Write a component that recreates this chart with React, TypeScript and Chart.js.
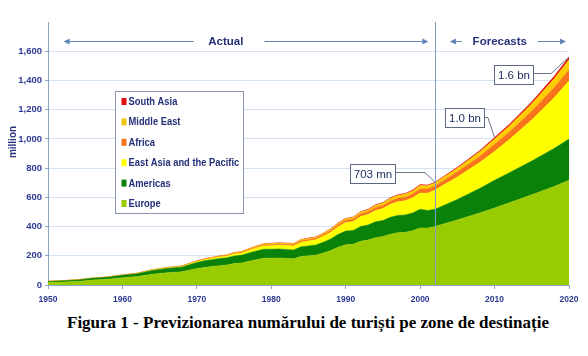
import { useEffect, useRef } from "react";
import { Chart, registerables } from "chart.js";
Chart.register(...registerables);

const years = [1950,1952,1954,1956,1958,1960,1962,1964,1966,1968,1970,1971,1972,1973,1974,1975,1976,1977,1978,1979,1980,1981,1982,1983,1984,1985,1986,1987,1988,1989,1990,1991,1992,1993,1994,1995,1996,1997,1998,1999,2000,2001,2002,2005,2008,2010,2012,2015,2018,2020];
const europe = [16.7,20.3,24.8,33.6,39.2,50.0,57.9,74.0,83.4,89.9,112.2,120.4,126.5,132.5,136.5,146.3,150.1,162.4,173.2,182.6,183.6,184.4,182.1,179.1,195.6,200.0,204.3,219.1,235.5,258.9,275.4,278.6,299.6,307.3,323.7,331.1,347.7,357.7,360.6,371.5,390.2,389.9,401,445,493,527,563,617,674,717];
const americas = [7.4,8.6,9.9,12.6,13.9,16.6,19.8,25.9,30.0,33.0,42.3,44.9,46.7,48.4,49.3,52.3,53.0,56.7,59.8,62.2,61.8,62.1,61.4,60.4,66.0,67.6,69.1,74.2,79.8,87.8,93.5,94.2,101.0,103.2,108.4,110.5,115.6,118.5,119.0,122.1,127.8,120.4,117,141,168,190,206,232,261,282];
const eastAsia = [0.2,0.25,0.32,0.44,0.53,0.7,1.2,2.1,3.1,4.1,6.1,7.4,8.7,10.0,11.3,13.2,14.7,17.1,19.5,21.9,23.5,25.0,26.2,27.2,31.3,33.7,36.2,40.7,45.7,52.6,58.4,61.0,67.7,71.6,77.7,81.9,88.6,93.8,97.3,103.1,111.3,118.3,132,153,177,197,227,281,346,397];
const africa = [0.5,0.57,0.61,0.72,0.72,0.8,1.0,1.3,1.6,1.8,2.5,2.9,3.3,3.6,4.0,4.6,4.9,5.7,6.4,7.0,7.4,7.7,7.9,8.1,9.1,9.6,10.2,11.2,12.5,14.1,15.5,16.1,17.7,18.5,20.0,20.9,22.4,23.6,24.3,25.6,27.5,28.0,28,35,41,48,52,60,69,77];
const middleEast = [0.2,0.25,0.3,0.41,0.48,0.6,0.8,1.0,1.2,1.4,1.8,2.2,2.6,3.1,3.5,4.1,4.6,5.4,6.1,6.9,7.4,7.4,7.2,7.0,7.6,7.7,7.8,8.3,8.8,9.5,10.0,10.8,12.3,13.4,14.9,16.1,17.8,19.2,20.3,21.9,24.0,21.9,20,25,31,37,41,50,61,69];
const southAsia = [0.05,0.07,0.09,0.12,0.15,0.2,0.3,0.4,0.6,0.7,1.0,1.1,1.2,1.3,1.4,1.6,1.6,1.8,2.0,2.2,2.3,2.3,2.2,2.2,2.4,2.4,2.4,2.6,2.8,3.0,3.2,3.3,3.7,3.9,4.3,4.5,4.9,5.2,5.4,5.7,6.2,5.5,5,7,9,11,12,14,17,19];

const seriesNames = ["Europe", "Americas", "East Asia and the Pacific", "Africa", "Middle East", "South Asia"];
const seriesValues = [europe, americas, eastAsia, africa, middleEast, southAsia];
const seriesColors = ["#99cc00", "#0a820a", "#ffff00", "#f7731c", "#ffcc00", "#e01010"];
const legendColors = ["#99cc00", "#0a820a", "#ffff00", "#f7731c", "#f2c414", "#e01010"];

const xTickYears = [1950, 1960, 1970, 1980, 1990, 2000, 2010, 2020];
const yTickValues = [0, 200, 400, 600, 800, 1000, 1200, 1400, 1600];
const yAxisTitle = "million";
const caption = "Figura 1 - Previzionarea numărului de turiști pe zone de destinație";

const forecastStart = 2002;
const headerLabels = ["Actual", "Forecasts"];
const headerCenters = [1973.9, 2010.7];
const headerArrows = [
  [1952.1, 1969.6, 1979.1, 2001.1],
  [2004.0, 2005.6, 2015.8, 2019.6],
];
const headerValue = 1670;

const calloutTexts = ["703 mn", "1.0 bn", "1.6 bn"];
const calloutYears = [2002, 2010, 2020];
const calloutBoxYears = [1993.6, 2005.9, 2012.6];
const calloutBoxValues = [766, 1146, 1444];
const calloutElbowYears = [2000.65, 2009.1, 2017.6];

const NAVY = "#26307a";
const TICK = "#2d3a94";

function totalAt(year: number) {
  const i = years.indexOf(year);
  return seriesValues.reduce((s, arr) => s + arr[i], 0);
}

function arrowHead(ctx: CanvasRenderingContext2D, x: number, y: number, dir: number) {
  ctx.beginPath();
  ctx.moveTo(x, y);
  ctx.lineTo(x - dir * 6, y - 3);
  ctx.lineTo(x - dir * 6, y + 3);
  ctx.closePath();
  ctx.fill();
}

const overlay = {
  id: "overlay",
  afterDatasetsDraw(chart: any) {
    const { ctx, chartArea, scales } = chart;
    const xs = scales.x;
    const ys = scales.y;
    ctx.save();

    // forecast divider
    const fx = Math.round(xs.getPixelForValue(forecastStart)) + 0.5;
    ctx.strokeStyle = "#7f9acb";
    ctx.lineWidth = 1;
    ctx.beginPath();
    ctx.moveTo(fx, chartArea.top);
    ctx.lineTo(fx, chartArea.bottom);
    ctx.stroke();

    // headers
    const hy = Math.round(ys.getPixelForValue(headerValue)) + 0.5;
    ctx.font = "bold 11.5px 'Liberation Sans', Arial";
    ctx.textAlign = "center";
    ctx.textBaseline = "middle";
    headerLabels.forEach((t, i) => {
      ctx.fillStyle = NAVY;
      ctx.fillText(t, xs.getPixelForValue(headerCenters[i]), hy);
      const [a, b, c, d] = headerArrows[i].map((v) => xs.getPixelForValue(v));
      ctx.strokeStyle = "#5f86b8";
      ctx.fillStyle = "#5f86b8";
      ctx.lineWidth = 1.2;
      ctx.beginPath();
      ctx.moveTo(a + 4, hy);
      ctx.lineTo(b, hy);
      ctx.moveTo(c, hy);
      ctx.lineTo(d - 4, hy);
      ctx.stroke();
      arrowHead(ctx, a, hy, -1);
      arrowHead(ctx, d, hy, 1);
    });

    // y title
    ctx.save();
    ctx.translate(13, 142);
    ctx.rotate(-Math.PI / 2);
    ctx.font = "bold 10px 'Liberation Sans', Arial";
    ctx.fillStyle = NAVY;
    ctx.textAlign = "center";
    ctx.textBaseline = "middle";
    ctx.fillText(yAxisTitle, 0, 0);
    ctx.restore();

    // legend
    const lx = chartArea.left + 67.5;
    const ly = chartArea.top + 69.5;
    ctx.fillStyle = "#ffffff";
    ctx.fillRect(lx, ly, 128, 122);
    ctx.strokeStyle = "#8a96b4";
    ctx.lineWidth = 1;
    ctx.strokeRect(lx, ly, 128, 122);
    ctx.font = "bold 11px 'Liberation Sans', Arial";
    ctx.textAlign = "left";
    ctx.textBaseline = "middle";
    const order = [5, 4, 3, 2, 1, 0];
    order.forEach((si, row) => {
      const cy = ly + 10 + row * 20.4;
      ctx.fillStyle = legendColors[si];
      ctx.fillRect(lx + 6, cy - 3.5, 5, 7);
      ctx.fillStyle = NAVY;
      ctx.save();
      ctx.translate(lx + 13, cy + 0.5);
      ctx.scale(0.85, 1);
      ctx.fillText(seriesNames[si], 0, 0);
      ctx.restore();
    });

    // callouts
    ctx.font = "11.5px 'Liberation Sans', Arial";
    calloutTexts.forEach((t, i) => {
      const px = xs.getPixelForValue(calloutYears[i]);
      const py = ys.getPixelForValue(totalAt(calloutYears[i]));
      const bx = xs.getPixelForValue(calloutBoxYears[i]);
      const by = ys.getPixelForValue(calloutBoxValues[i]);
      const ex = xs.getPixelForValue(calloutElbowYears[i]);
      const w = Math.round(ctx.measureText(t).width + 7);
      const h = 19;
      const left = Math.round(bx - w / 2) + 0.5;
      const top = Math.round(by - h / 2) + 0.5;
      ctx.strokeStyle = "#6c7486";
      ctx.lineWidth = 1;
      ctx.beginPath();
      ctx.moveTo(left + w, Math.round(by) - 0.5);
      ctx.lineTo(ex, Math.round(by) - 0.5);
      ctx.lineTo(px, py);
      ctx.stroke();
      ctx.fillStyle = "#ffffff";
      ctx.fillRect(left, top, w, h);
      ctx.strokeStyle = "#5c6784";
      ctx.strokeRect(left, top, w, h);
      ctx.fillStyle = "#1f2a5e";
      ctx.textAlign = "center";
      ctx.fillText(t, left + w / 2, top + h / 2 + 0.5);
    });

    ctx.restore();
  },
};

export default function App() {
  const ref = useRef<HTMLCanvasElement>(null);
  useEffect(() => {
    const datasets = seriesValues.map((vals, si) => ({
      label: seriesNames[si],
      data: years.map((yr, i) => ({ x: yr, y: vals[i] })),
      backgroundColor: seriesColors[si],
      borderColor: seriesColors[si],
      borderWidth: 0.5,
      pointRadius: 0,
      tension: 0,
      fill: si === 0 ? "origin" : "-1",
    }));
    const chart = new Chart(ref.current as HTMLCanvasElement, {
      type: "line",
      data: { datasets },
      plugins: [overlay],
      options: {
        animation: false,
        responsive: false,
        devicePixelRatio: 1,
        layout: { padding: { top: 22, right: 19, left: 0, bottom: 0 } },
        plugins: { legend: { display: false }, tooltip: { enabled: false } },
        scales: {
          x: {
            type: "linear",
            min: 1950,
            max: 2020,
            afterBuildTicks: (s: any) => {
              s.ticks = xTickYears.map((v) => ({ value: v }));
            },
            afterFit: (s: any) => {
              s.height = 25;
            },
            ticks: {
              callback: (v: any) => String(v),
              color: TICK,
              font: { family: "'Liberation Sans', Arial", size: 8.5, weight: "bold" },
              padding: 6,
              maxRotation: 0,
            },
            grid: { drawOnChartArea: false, tickLength: 4, color: "#8ea4c6" },
            border: { color: "#8ea4c6" },
          },
          y: {
            stacked: true,
            min: 0,
            max: 1800,
            afterBuildTicks: (s: any) => {
              s.ticks = yTickValues.map((v) => ({ value: v }));
            },
            afterFit: (s: any) => {
              s.width = 48;
            },
            ticks: {
              callback: (v: any) => Number(v).toLocaleString("en-US"),
              color: TICK,
              font: { family: "'Liberation Sans', Arial", size: 9.5, weight: "bold" },
              padding: 3,
            },
            grid: { color: "#d3e2f2", tickLength: 3, tickColor: "#8ea4c6" },
            border: { color: "#8ea4c6" },
          },
        },
      } as any,
    });
    return () => chart.destroy();
  }, []);
  return (
    <div style={{ position: "absolute", left: 0, top: 0, width: 588, height: 356, background: "#fff" }}>
      <canvas ref={ref} width={588} height={310} style={{ display: "block" }} />
      <div
        style={{
          position: "absolute",
          left: 14,
          top: 314,
          width: 588,
          textAlign: "center",
          fontFamily: "'Liberation Serif', 'Times New Roman', serif",
          fontWeight: "bold",
          fontSize: 17,
          lineHeight: "17px",
          color: "#000",
          whiteSpace: "nowrap",
        }}
      >
        {caption}
      </div>
    </div>
  );
}
